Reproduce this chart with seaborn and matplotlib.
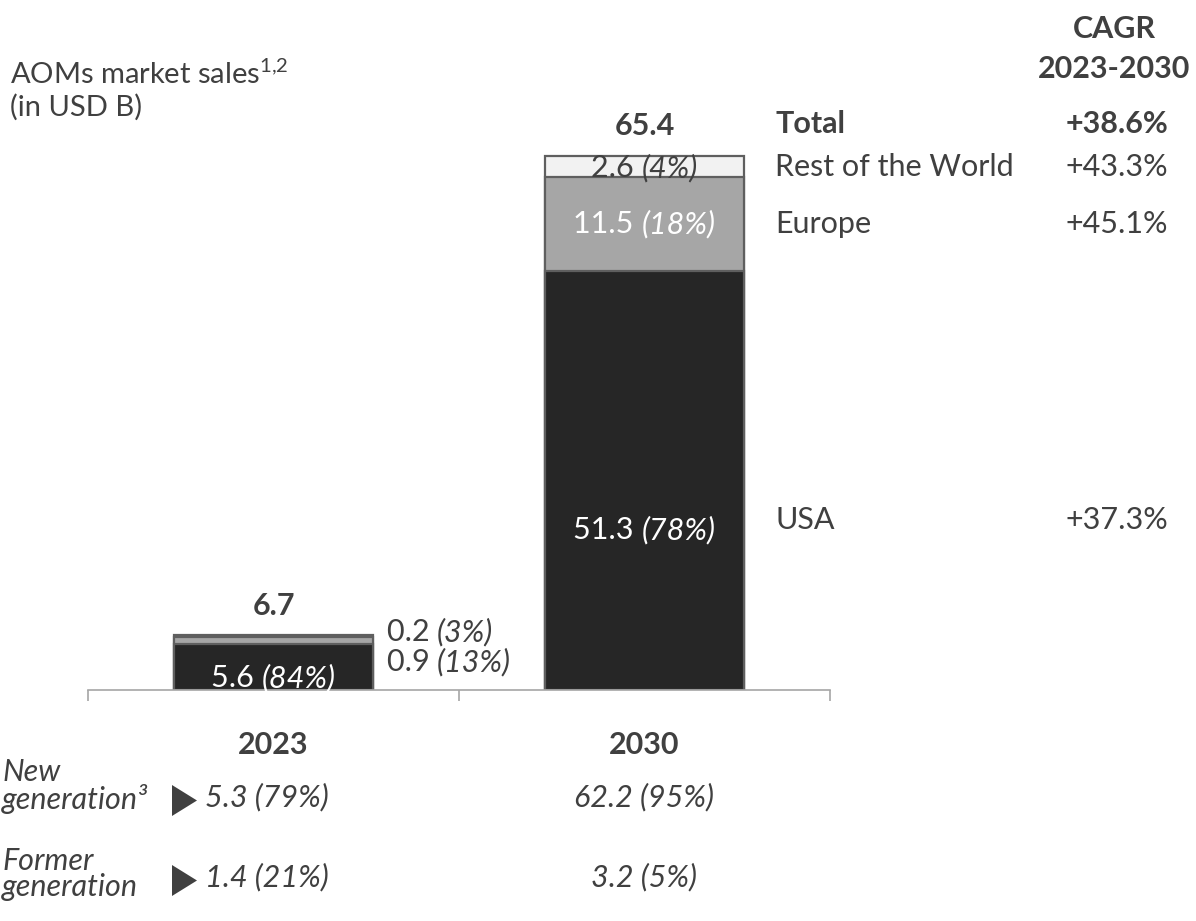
import pandas as pd
import seaborn as sns
import matplotlib.pyplot as plt
from matplotlib.patches import Polygon

# values (USD B)
years = ["2023", "2030"]
usa = [5.6, 51.3]
europe = [0.9, 11.5]
rest_world = [0.2, 2.6]
totals = [6.7, 65.4]
usa_pct = [84, 78]
europe_pct = [13, 18]
rest_pct = [3, 4]

regions = ["Total", "Rest of the World", "Europe", "USA"]
cagr = ["+38.6%", "+43.3%", "+45.1%", "+37.3%"]

new_gen = ["5.3 (79%)", "62.2 (95%)"]
former_gen = ["1.4 (21%)", "3.2 (5%)"]

TXT = "#404040"
FONT = "Lato"

sns.set_style("white")
plt.rcParams["font.family"] = [FONT, "DejaVu Sans"]
plt.rcParams["mathtext.fontset"] = "custom"
plt.rcParams["mathtext.rm"] = FONT

W, H = 1196, 921
fig = plt.figure(figsize=(W / 100, H / 100), dpi=100)
renderer = fig.canvas.get_renderer()


def fx(px):
    return px / W


def fy(py):
    return 1 - py / H


scale = 534 / 65.4  # px per USD B
ax = fig.add_axes([fx(88), fy(690), 742 / W, 590 / H])

df = pd.DataFrame({"year": years, "usa": usa, "europe": europe, "rest": rest_world})
df["eu_top"] = df["usa"] + df["europe"]
df["total"] = df["eu_top"] + df["rest"]

edge = "#5f5f5f"
for col, colr in [("total", "#f2f2f2"), ("eu_top", "#a6a6a6"), ("usa", "#262626")]:
    sns.barplot(data=df, x="year", y=col, color=colr, width=0.534,
                edgecolor=edge, linewidth=1.6, saturation=1, ax=ax)

ax.set_xlim(-0.5, 1.5)
ax.set_ylim(0, 590 / scale)
ax.set_xlabel("")
ax.set_ylabel("")
ax.set_yticks([])
ax.set_xticks([])
ax.set_xticks([-0.5, 0.5, 1.5], minor=True)
ax.tick_params(axis="x", which="minor", length=8, width=1.2, color="#a6a6a6",
               direction="out", bottom=True)
for s in ["top", "left", "right"]:
    ax.spines[s].set_visible(False)
ax.spines["bottom"].set_color("#a6a6a6")
ax.spines["bottom"].set_linewidth(1.2)

fs = 22


def lab(x, y, v, p, color, ha="center"):
    # value upright, share in italics, drawn as two texts
    a = ax.text(x, y, f"{v} ", color=color, ha="left", va="center", fontsize=fs)
    b = ax.text(x, y, f"({p}%)", color=color, ha="left", va="center", fontsize=fs,
                style="italic")
    wa = a.get_window_extent(renderer).width
    wb = b.get_window_extent(renderer).width
    x0 = ax.transData.transform((x, y))[0]
    if ha == "center":
        x0 -= (wa + wb) / 2
    inv = ax.transData.inverted()
    a.set_x(inv.transform((x0, 0))[0])
    b.set_x(inv.transform((x0 + wa, 0))[0])


# labels on 2023 bar
lab(0, 1.45, usa[0], usa_pct[0], "white")
lab(0.305, 7.1, rest_world[0], rest_pct[0], TXT, ha="left")
lab(0.305, 3.45, europe[0], europe_pct[0], TXT, ha="left")

# labels on 2030 bar
lab(1, 19.6, usa[1], usa_pct[1], "white")
lab(1, usa[1] + europe[1] / 2, europe[1], europe_pct[1], "white")
lab(1, totals[1] - rest_world[1] / 2 - 0.2, rest_world[1], rest_pct[1], TXT)

for i, t in enumerate(totals):
    ax.text(i, t + 1.9, f"{t}", color=TXT, ha="center", va="bottom", fontsize=fs,
            fontweight="bold")

# year labels
for i, y in enumerate(years):
    fig.text(fx(273 + 371 * i), fy(745), y, color=TXT, ha="center", va="center",
             fontsize=fs, fontweight="bold")

# title
fig.text(fx(10), fy(74), "AOMs market sales$^{1{,}2}$", color=TXT, ha="left", va="center", fontsize=fs - 1)
fig.text(fx(10), fy(107), "(in USD B)", color=TXT, ha="left", va="center", fontsize=fs - 1)

# CAGR column
fig.text(fx(1114), fy(29), "CAGR", color=TXT, ha="center", va="center", fontsize=fs, fontweight="bold")
fig.text(fx(1114), fy(69), "2023-2030", color=TXT, ha="center", va="center", fontsize=fs, fontweight="bold")
row_y = [124, 167, 224, 520]
for r, c, py in zip(regions, cagr, row_y):
    wt = "bold" if r == "Total" else "normal"
    fig.text(fx(775), fy(py), r, color=TXT, ha="left", va="center", fontsize=fs, fontweight=wt)
    fig.text(fx(1168), fy(py), c, color=TXT, ha="right", va="center", fontsize=fs, fontweight=wt)

# generation split rows
fig.text(fx(2), fy(786), "New\ngeneration³", color=TXT, ha="left", va="center",
         fontsize=fs, style="italic", linespacing=0.95)
fig.text(fx(2), fy(874), "Former\ngeneration", color=TXT, ha="left", va="center",
         fontsize=fs, style="italic", linespacing=0.95)
for py, vals in [(797, new_gen), (877, former_gen)]:
    tri = Polygon([(fx(172), fy(py - 12)), (fx(172), fy(py + 19)), (fx(197), fy(py + 3.5))],
                  closed=True, facecolor="#404040", edgecolor="none", transform=fig.transFigure)
    fig.add_artist(tri)
    fig.text(fx(205), fy(py), vals[0], color=TXT, ha="left", va="center", fontsize=fs, style="italic")
    fig.text(fx(644), fy(py), vals[1], color=TXT, ha="center", va="center", fontsize=fs, style="italic")

fig.savefig("out.png", dpi=100)
